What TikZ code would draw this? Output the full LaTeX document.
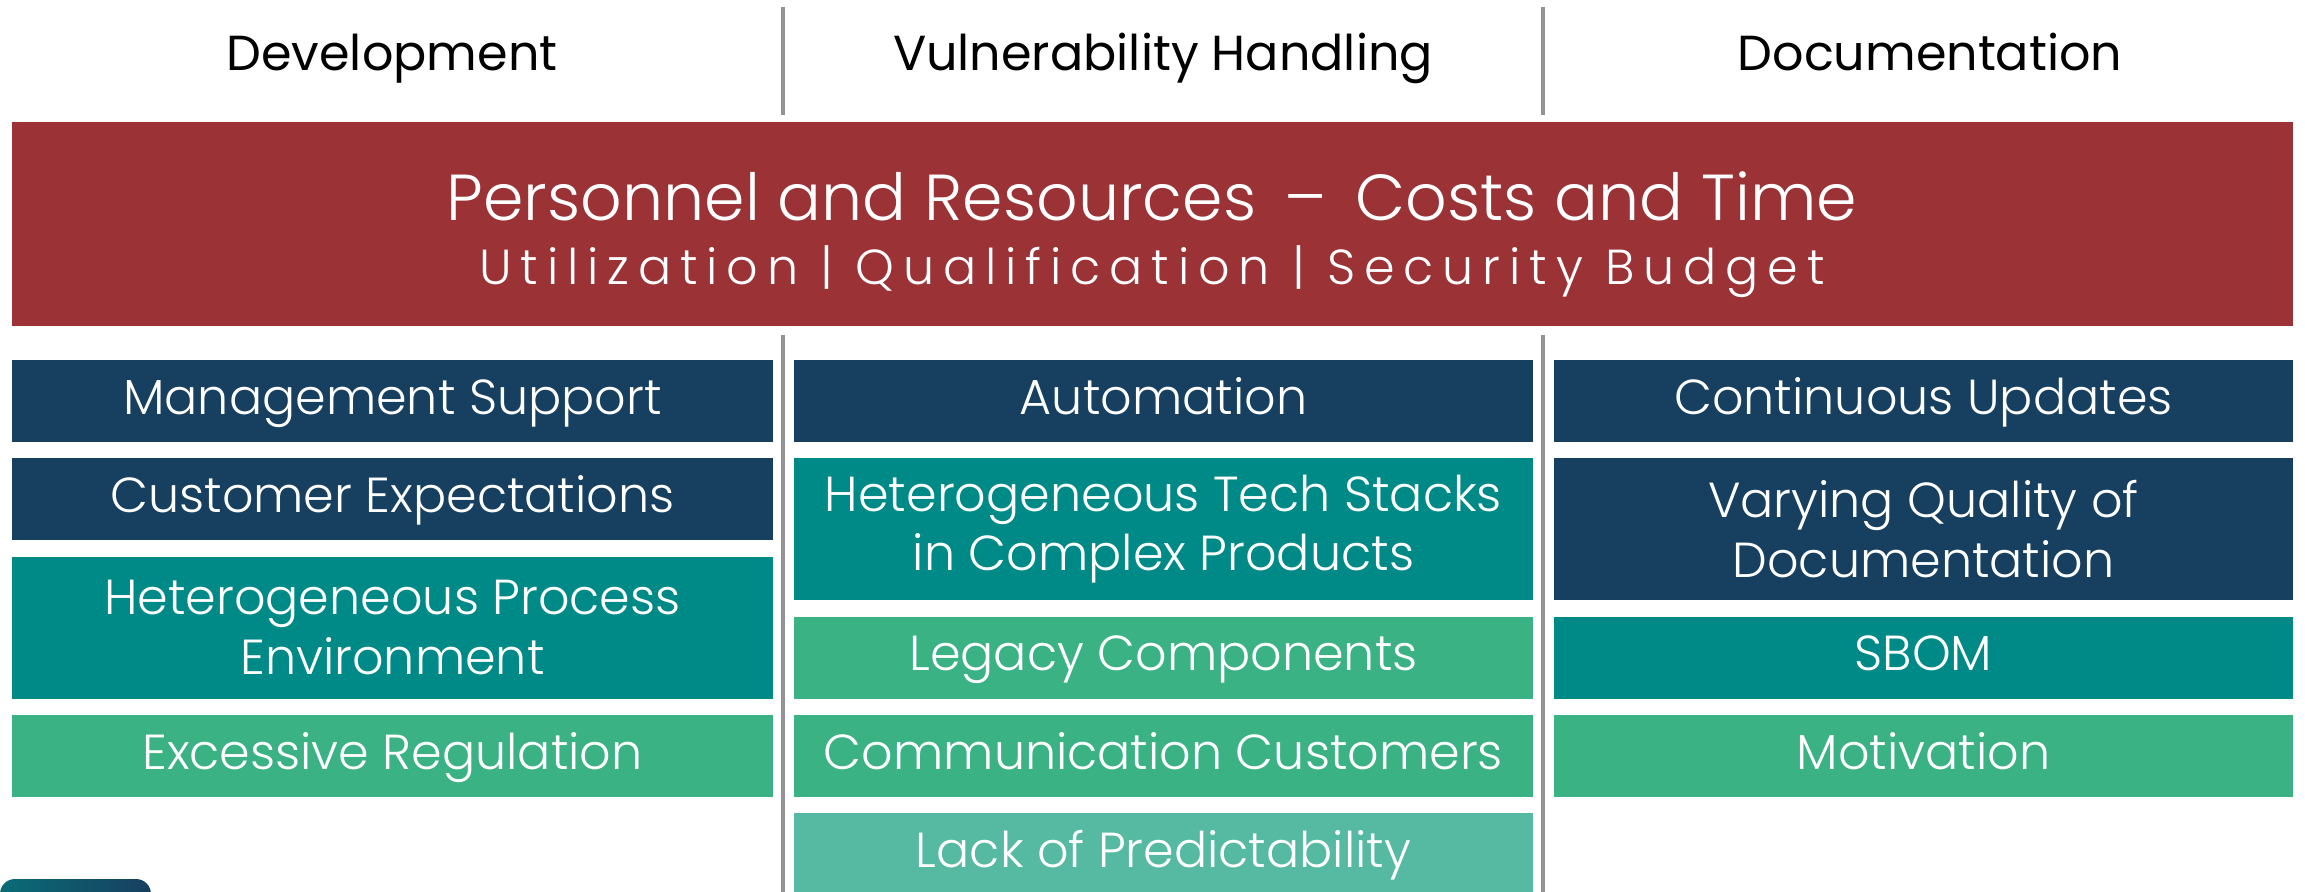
\documentclass[tikz,border=0pt]{standalone}
\usepackage{fontspec}
\setmainfont{Poppins}
\newfontfamily\lightfont{Poppins Light}
\usetikzlibrary{positioning}
\definecolor{navy}{HTML}{173F5F}
\definecolor{teal}{HTML}{008A87}
\definecolor{mint}{HTML}{3AB284}
\definecolor{palemint}{HTML}{56B9A2}
\definecolor{wine}{HTML}{9B3236}
\definecolor{divgray}{HTML}{939393}

\begin{document}
\begin{tikzpicture}[
          node distance=0.15cm,
          box/.style={rectangle, text=white, minimum width=7.39cm, minimum height=0.82cm, inner sep=0pt, align=center, text height=0.76em, text depth=0pt, font=\lightfont\fontsize{14}{17}\selectfont},
          tall/.style={minimum height=1.42cm, text height=, text depth=},
          head/.style={anchor=base, font=\fontsize{14}{17}\selectfont},
          divider/.style={draw=divgray, line width=1.4pt}
        ]
          \useasboundingbox (0,0) rectangle (23.05,-8.92);

          % column headers
          \node[head] (dev) at (3.92,-0.70) {Development};
          \node[head] (vuln) at (11.63,-0.70) {Vulnerability Handling};
          \node[head] (doc) at (19.3,-0.70) {Documentation};

          % common bar
          \node[rectangle, fill=wine, minimum width=22.81cm, minimum height=2.04cm, inner sep=0pt] (bar) at (11.525,-2.24) {};
          \node[anchor=base, text=white, font=\lightfont\fontsize{18.5}{22}\selectfont] (costs) at (11.52,-2.20) {Personnel and Resources \,–\, Costs and Time};
          \node[anchor=base, text=white, font=\lightfont\fontsize{14}{17}\selectfont\addfontfeature{LetterSpace=18}] (budget) at (11.52,-2.84) {Utilization | Qualification | Security Budget};

          % separators
          \draw[divider] (7.83,-0.07) -- (7.83,-1.15);
          \draw[divider] (15.43,-0.07) -- (15.43,-1.15);
          \draw[divider] (7.83,-3.35) -- (7.83,-9.0);
          \draw[divider] (15.43,-3.35) -- (15.43,-9.0);

          % development
          \node[box, fill=navy, minimum width=7.61cm, anchor=north] (mgmt) at (3.925,-3.59) {Management Support};
          \node[box, fill=navy, minimum width=7.61cm, below=of mgmt] (cust) {Customer Expectations};
          \node[box, tall, fill=teal, minimum width=7.61cm, below=of cust] (proc) {Heterogeneous Process\\Environment};
          \node[box, fill=mint, minimum width=7.61cm, below=of proc] (reg) {Excessive Regulation};

          % vulnerability handling
          \node[box, fill=navy, anchor=north] (auto) at (11.635,-3.59) {Automation};
          \node[box, tall, fill=teal, below=of auto] (stack) {Heterogeneous Tech Stacks\\in Complex Products};
          \node[box, fill=mint, below=of stack] (legacy) {Legacy Components};
          \node[box, fill=mint, below=of legacy] (comm) {Communication Customers};
          \node[box, fill=palemint, below=of comm] (predict) {Lack of Predictability};

          % documentation
          \node[box, fill=navy, anchor=north] (updates) at (19.235,-3.59) {Continuous Updates};
          \node[box, tall, fill=navy, below=of updates] (quality) {Varying Quality of\\Documentation};
          \node[box, fill=teal, below=of quality] (sbom) {SBOM};
          \node[box, fill=mint, below=of sbom] (motiv) {Motivation};

          % corner tab
          \shade[left color=teal!60!navy, right color=navy, rounded corners=0.15cm] (0,-8.79) rectangle (1.51,-9.2);
        \end{tikzpicture}
\end{document}
